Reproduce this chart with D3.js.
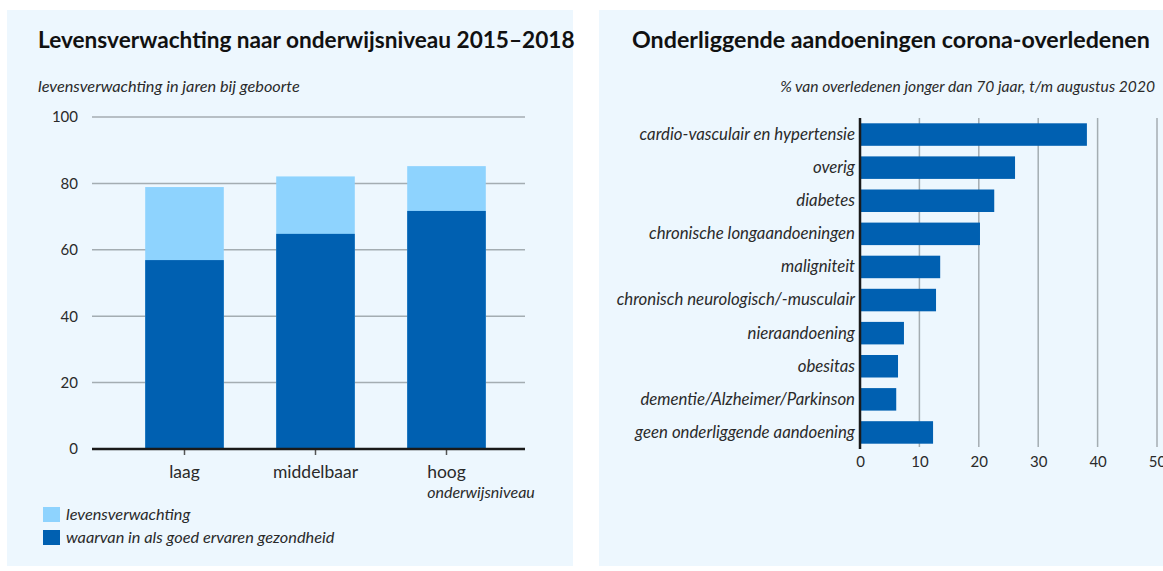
<!DOCTYPE html>
<html>
<head>
<meta charset="utf-8">
<title>Levensverwachting en onderliggende aandoeningen</title>
<script src="https://d3js.org/d3.v7.min.js"></script>
<style>
body { margin: 0; background: #fff; }
svg { display: block; font-family: Lato, "Open Sans", sans-serif; }
</style>
</head>
<body>
<script>
// linker grafiek
var niveaus = ["laag", "middelbaar", "hoog"];
var levensverwachting = [78.9, 82.1, 85.2];
var gezond = [56.9, 64.8, 71.7];
var yTicks = [0, 20, 40, 60, 80, 100];
var legendaLabels = ["levensverwachting", "waarvan in als goed ervaren gezondheid"];

// rechter grafiek
var aandoeningen = ["cardio-vasculair en hypertensie", "overig", "diabetes",
  "chronische longaandoeningen", "maligniteit", "chronisch neurologisch/-musculair",
  "nieraandoening", "obesitas", "dementie/Alzheimer/Parkinson", "geen onderliggende aandoening"];
var percentages = [38.2, 26.1, 22.6, 20.2, 13.5, 12.8, 7.4, 6.4, 6.1, 12.3];
var xTicks = [0, 10, 20, 30, 40, 50];

var donker = "#0060b1", licht = "#8ed3fe", achtergrond = "#edf7fe",
    grid = "#a4adb2", tekst = "#2a2a2a";

var svg = d3.select("body").append("svg")
  .attr("width", 1163)
  .attr("height", 571);

// schaal de tekst zodat hij de gewenste breedte heeft
function fit(sel, w) {
  var len = sel.node().getComputedTextLength();
  var fs = parseFloat(sel.style("font-size"));
  sel.style("font-size", (fs * w / len) + "px");
  return sel;
}

svg.append("rect").attr("x", 7).attr("y", 10).attr("width", 566).attr("height", 556).attr("fill", achtergrond);
svg.append("rect").attr("x", 599).attr("y", 10).attr("width", 564).attr("height", 556).attr("fill", achtergrond);

// ---------- links ----------
var L = svg.append("g");

fit(L.append("text").attr("x", 38).attr("y", 48)
  .style("font-size", "19px").style("font-weight", "bold").attr("fill", "#111")
  .text("Levensverwachting naar onderwijsniveau 2015\u20132018"), 537);

fit(L.append("text").attr("x", 38).attr("y", 92)
  .style("font-size", "14px").style("font-style", "italic").attr("fill", tekst)
  .text("levensverwachting in jaren bij geboorte"), 262);

var y = d3.scaleLinear().domain([0, 100]).range([449, 117]);
var x = d3.scaleBand().domain(niveaus).range([119, 512]).paddingInner(0.4).paddingOuter(0.2);

L.selectAll(".grid").data(yTicks.slice(1)).enter().append("line")
  .attr("x1", 92).attr("x2", 525)
  .attr("y1", function(d) { return y(d); }).attr("y2", function(d) { return y(d); })
  .attr("stroke", grid).attr("stroke-width", 1.5);

var yAxis = L.append("g").attr("transform", "translate(78,0)")
  .call(d3.axisLeft(y).tickValues(yTicks).tickSize(0).tickPadding(0));
yAxis.select(".domain").remove();
yAxis.selectAll("text").style("font-size", "15px").style("font-family", "Lato, sans-serif").attr("fill", tekst);

// totaal (licht) en gezond (donker)
L.selectAll(".tot").data(niveaus).enter().append("rect")
  .attr("x", function(d) { return x(d); })
  .attr("width", x.bandwidth())
  .attr("y", function(d, i) { return y(levensverwachting[i]); })
  .attr("height", function(d, i) { return y(0) - y(levensverwachting[i]); })
  .attr("fill", licht);

L.selectAll(".gez").data(niveaus).enter().append("rect")
  .attr("x", function(d) { return x(d); })
  .attr("width", x.bandwidth())
  .attr("y", function(d, i) { return y(gezond[i]); })
  .attr("height", function(d, i) { return y(0) - y(gezond[i]); })
  .attr("fill", donker);

var xAxis = L.append("g").attr("transform", "translate(0," + y(0) + ")")
  .call(d3.axisBottom(x).tickSize(6).tickPadding(11).tickSizeOuter(0));
xAxis.select(".domain").remove();
xAxis.selectAll("line").attr("stroke", "#555").attr("stroke-width", 1.5);
xAxis.selectAll("text").style("font-size", "17.5px").style("font-family", "Lato, sans-serif").attr("fill", tekst);

L.append("line").attr("x1", 92).attr("x2", 525).attr("y1", y(0)).attr("y2", y(0))
  .attr("stroke", "#1a1a1a").attr("stroke-width", 2.5);

var hoogLabel = xAxis.selectAll(".tick text").filter(function(d) { return d === "hoog"; });
var hb = hoogLabel.node().getBBox();
var hoogX = x("hoog") + x.bandwidth() / 2 + hb.x;
L.append("text").attr("x", hoogX).attr("y", 498)
  .style("font-size", "16px").style("font-style", "italic").attr("fill", tekst)
  .text("onderwijsniveau");

var leg = L.selectAll(".leg").data(legendaLabels).enter().append("g")
  .attr("transform", function(d, i) { return "translate(43," + (507 + i * 23) + ")"; });
leg.append("rect").attr("width", 17).attr("height", 15)
  .attr("fill", function(d, i) { return i === 0 ? licht : donker; });
leg.append("text").attr("x", 23).attr("y", 13)
  .style("font-size", "16.3px").style("font-style", "italic").attr("fill", tekst)
  .text(function(d) { return d; });

// ---------- rechts ----------
var R = svg.append("g");

fit(R.append("text").attr("x", 632).attr("y", 48)
  .style("font-size", "19px").style("font-weight", "bold").attr("fill", "#111")
  .text("Onderliggende aandoeningen corona-overledenen"), 518);

fit(R.append("text").attr("x", 1155).attr("y", 92).attr("text-anchor", "end")
  .style("font-size", "14px").style("font-style", "italic").attr("fill", tekst)
  .text("% van overledenen jonger dan 70 jaar, t/m augustus 2020"), 375);

var x2 = d3.scaleLinear().domain([0, 50]).range([860, 1157]);
var y2 = d3.scaleBand().domain(aandoeningen).range([118, 449]).paddingInner(0.32).paddingOuter(0.16);

R.selectAll(".grid").data(xTicks.slice(1)).enter().append("line")
  .attr("x1", function(d) { return x2(d); }).attr("x2", function(d) { return x2(d); })
  .attr("y1", 118).attr("y2", 447)
  .attr("stroke", grid).attr("stroke-width", 1.5);

R.selectAll(".bar").data(aandoeningen).enter().append("rect")
  .attr("x", x2(0))
  .attr("y", function(d) { return y2(d); })
  .attr("width", function(d, i) { return x2(percentages[i]) - x2(0); })
  .attr("height", y2.bandwidth())
  .attr("fill", donker);

R.append("line").attr("x1", x2(0)).attr("x2", x2(0)).attr("y1", 118).attr("y2", 449)
  .attr("stroke", "#1a1a1a").attr("stroke-width", 2.5);

var x2Axis = R.append("g").attr("transform", "translate(0,452)")
  .call(d3.axisBottom(x2).tickValues(xTicks).tickSize(0).tickPadding(4));
x2Axis.select(".domain").remove();
x2Axis.selectAll("text").style("font-size", "15px").style("font-family", "Lato, sans-serif").attr("fill", tekst);

var y2Axis = R.append("g").attr("transform", "translate(855,0)")
  .call(d3.axisLeft(y2).tickSize(0).tickPadding(0));
y2Axis.select(".domain").remove();
y2Axis.selectAll("text").style("font-size", "16.8px").style("font-style", "italic")
  .style("font-family", "Lato, sans-serif").attr("fill", tekst);
</script>
</body>
</html>
